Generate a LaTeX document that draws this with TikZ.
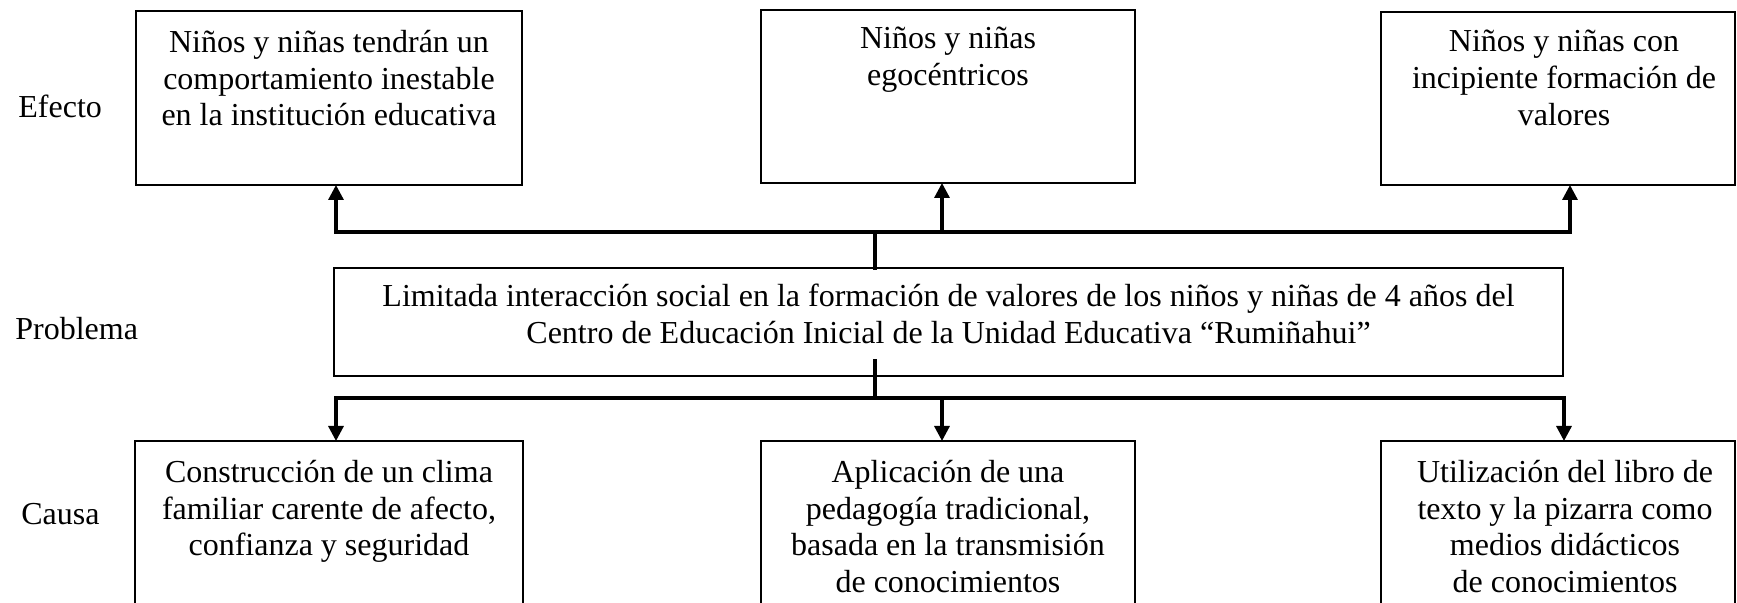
\documentclass[tikz,border=0pt]{standalone}
\usepackage{fontspec}
\setmainfont{Liberation Serif}
\usetikzlibrary{arrows.meta}
\begin{document}
\begin{tikzpicture}[x=0.5pt,y=-0.5pt,
  box/.style={draw, line width=1pt, rectangle, inner sep=0pt, outer sep=0pt},
  txt/.style={font=\fontsize{16pt}{18.4pt}\selectfont, align=center, inner sep=0pt, anchor=north},
  lbl/.style={font=\fontsize{16pt}{18.4pt}\selectfont, inner sep=0pt, anchor=base west},
  conn/.style={line width=1.6pt, line cap=rect},
  arr/.style={line width=1.6pt, -{Triangle[width=7.5pt,length=7.5pt]}}]
\clip (0,0) rectangle (1737,603);
\fill[white] (0,0) rectangle (1737,603);

% Effect boxes
\node[box, minimum width=193pt, minimum height=87pt] (e1) at (329,98) {};
\node[box, minimum width=187pt, minimum height=86.5pt] (e2) at (948,96.5) {};
\node[box, minimum width=177pt, minimum height=86.5pt] (e3) at (1558,98.5) {};
\node[txt] (e1t) at (329,26.24) {\strut Niños y niñas tendrán un\\comportamiento inestable\\en la institución educativa};
\node[txt] (e2t) at (948,22.24) {\strut Niños y niñas\\egocéntricos};
\node[txt] (e3t) at (1564,25.74) {\strut Niños y niñas con\\incipiente formación de\\valores};

% Problem box
\node[box, minimum width=614.5pt, minimum height=54pt] (p) at (948.5,322) {};
\node[txt] (pt) at (948.5,280.24) {\strut Limitada interacción social en la formación de valores de los niños y niñas de 4 años del\\Centro de Educación Inicial de la Unidad Educativa “Rumiñahui”};

% Cause boxes
\node[box, minimum width=194pt, minimum height=109.5pt] (c1) at (329,550.5) {};
\node[box, minimum width=187pt, minimum height=109.5pt] (c2) at (948,550.5) {};
\node[box, minimum width=177pt, minimum height=109.5pt] (c3) at (1558,550.5) {};
\node[txt] (c1t) at (329,456.24) {\strut Construcción de un clima\\familiar carente de afecto,\\confianza y seguridad};
\node[txt] (c2t) at (948,456.24) {\strut Aplicación de una\\pedagogía tradicional,\\basada en la transmisión\\de conocimientos};
\node[txt] (c3t) at (1565,456.24) {\strut Utilización del libro de\\texto y la pizarra como\\medios didácticos\\de conocimientos};

% Row labels
\node[lbl] (le) at (18,118) {Efecto};
\node[lbl] (lp) at (15,340) {Problema};
\node[lbl] (lc) at (21,525) {Causa};

% Connector points
\coordinate (ua) at (336,232);
\coordinate (ub) at (942,232);
\coordinate (uc) at (1570,232);
\coordinate (um) at (875,232);
\coordinate (da) at (336,398);
\coordinate (db) at (942,398);
\coordinate (dc) at (1564,398);
\coordinate (dm) at (875,398);
\coordinate (dmt) at (875,361);

% Upper connectors
\draw[conn] (ua) -- (uc);
\draw[conn] (um) -- (um |- p.north);
\draw[arr] (ua) -- (ua |- e1.south);
\draw[arr] (ub) -- (ub |- e2.south);
\draw[arr] (uc) -- (uc |- e3.south);

% Lower connectors
\draw[conn] (da) -- (dc);
\draw[conn] (dmt) -- (dm);
\draw[arr] (da) -- (da |- c1.north);
\draw[arr] (db) -- (db |- c2.north);
\draw[arr] (dc) -- (dc |- c3.north);
\end{tikzpicture}
\end{document}
